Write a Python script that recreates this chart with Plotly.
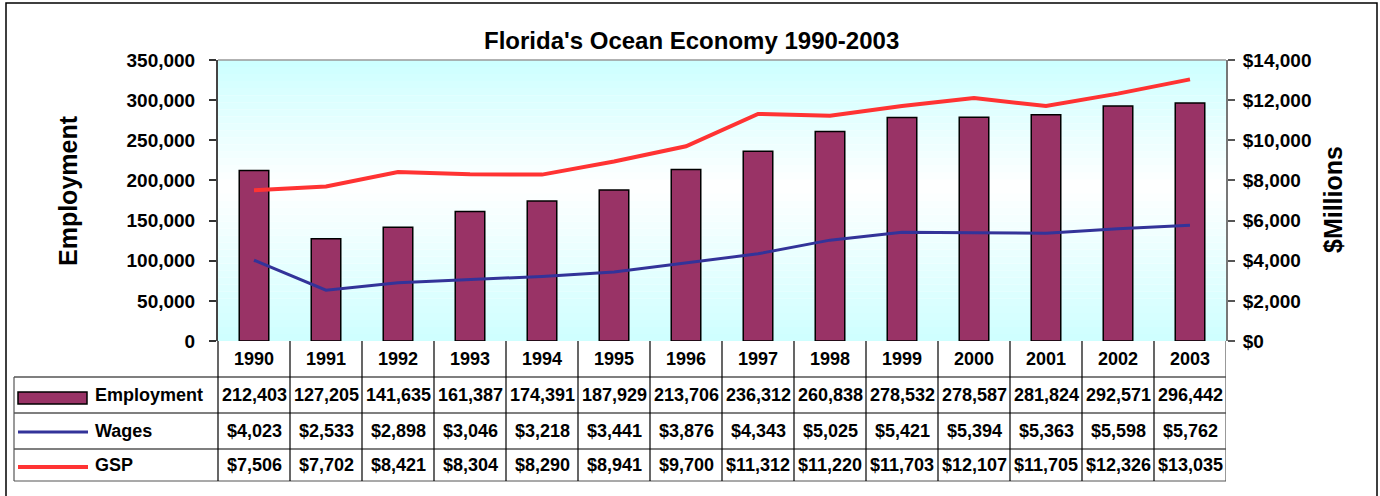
import plotly.graph_objects as go

years = [1990, 1991, 1992, 1993, 1994, 1995, 1996, 1997, 1998, 1999, 2000, 2001, 2002, 2003]
employment = [212403, 127205, 141635, 161387, 174391, 187929, 213706, 236312, 260838, 278532, 278587, 281824, 292571, 296442]
wages = [4023, 2533, 2898, 3046, 3218, 3441, 3876, 4343, 5025, 5421, 5394, 5363, 5598, 5762]
gsp = [7506, 7702, 8421, 8304, 8290, 8941, 9700, 11312, 11220, 11703, 12107, 11705, 12326, 13035]

W, H = 1380, 496
FONT = "Liberation Sans, Arial, sans-serif"
BAR_COLOR = "#993366"
WAGE_COLOR = "#333399"
GSP_COLOR = "#FF3333"

def px(x):
    return x / W

def py(y):
    return 1 - y / H

PL, PR, PT, PB = 218, 1226, 60, 341
ROWS = [341, 377, 413, 449, 481]
TL = 14

fig = go.Figure()
fig.add_trace(go.Bar(x=years, y=employment, name="Employment", width=0.41,
                     marker=dict(color=BAR_COLOR, line=dict(color="#000000", width=1.5)),
                     yaxis="y"))
fig.add_trace(go.Scatter(x=years, y=wages, name="Wages", mode="lines",
                         line=dict(color=WAGE_COLOR, width=3), yaxis="y2"))
fig.add_trace(go.Scatter(x=years, y=gsp, name="GSP", mode="lines",
                         line=dict(color=GSP_COLOR, width=4), yaxis="y2"))

shapes = []
# gradient background in plot area
N = 40
for i in range(N):
    f0 = i / N
    f1 = (i + 1) / N
    fm = (f0 + f1) / 2
    if fm >= 0.55:
        t = (fm - 0.55) / 0.45
        r = 255 - t * (255 - 204)
    else:
        t = (0.55 - fm) / 0.55
        r = 255 - t * (255 - 206)
    r = int(round(r))
    shapes.append(dict(type="rect", xref="x domain", yref="y domain", x0=0, x1=1, y0=f0, y1=f1,
                       fillcolor=f"rgb({r},255,255)", line=dict(width=0), layer="below"))
# top border of plot
shapes.append(dict(type="line", xref="paper", yref="paper", x0=px(PL), x1=px(PR), y0=py(PT), y1=py(PT),
                   line=dict(color="#999999", width=1.5)))
# outer chart border
shapes.append(dict(type="rect", xref="paper", yref="paper", x0=px(6), x1=px(1377), y0=py(3), y1=py(520),
                   line=dict(color="#000000", width=1.5), fillcolor="rgba(0,0,0,0)"))
# table horizontal lines
for i, yy in enumerate(ROWS):
    if i == 0:
        continue
    shapes.append(dict(type="line", xref="paper", yref="paper", x0=px(TL), x1=px(PR), y0=py(yy), y1=py(yy),
                       line=dict(color="#555555" if i == len(ROWS) - 1 else "#000000", width=1.2)))
# table vertical lines
shapes.append(dict(type="line", xref="paper", yref="paper", x0=px(TL), x1=px(TL), y0=py(ROWS[1]), y1=py(ROWS[-1]),
                   line=dict(color="#555555", width=1.2)))
shapes.append(dict(type="line", xref="paper", yref="paper", x0=px(PL), x1=px(PL), y0=py(ROWS[0]), y1=py(ROWS[-1]),
                   line=dict(color="#000000", width=1.2)))
for yr in years:
    shapes.append(dict(type="line", xref="x", yref="paper", x0=yr + 0.5, x1=yr + 0.5, y0=py(ROWS[0]), y1=py(ROWS[-1]),
                       line=dict(color="#555555" if yr == years[-1] else "#000000", width=1.2)))
# legend keys
shapes.append(dict(type="rect", xref="paper", yref="paper", x0=px(18), x1=px(87), y0=py(404), y1=py(392),
                   fillcolor=BAR_COLOR, line=dict(color="#000000", width=1.5)))
shapes.append(dict(type="line", xref="paper", yref="paper", x0=px(18), x1=px(88), y0=py(432), y1=py(432),
                   line=dict(color=WAGE_COLOR, width=3)))
shapes.append(dict(type="line", xref="paper", yref="paper", x0=px(18), x1=px(88), y0=py(467), y1=py(467),
                   line=dict(color=GSP_COLOR, width=4)))

ann = []
bold = dict(family=FONT, size=18, color="#000000", weight="bold")
def A(**kw):
    d = dict(showarrow=False, xanchor="center", yanchor="middle")
    d.update(kw)
    ann.append(d)

A(text="Florida's Ocean Economy 1990-2003", xref="paper", yref="paper", x=px(691), y=py(40),
  font=dict(family=FONT, size=24, color="#000000", weight="bold"))
A(text="Employment", xref="paper", yref="paper", x=px(68), y=py(191), textangle=-90,
  font=dict(family=FONT, size=25, color="#000000", weight="bold"))
A(text="$Millions", xref="paper", yref="paper", x=px(1333), y=py(200), textangle=-90,
  font=dict(family=FONT, size=25, color="#000000", weight="bold"))
row_centers = [(ROWS[i] + ROWS[i + 1]) / 2 for i in range(4)]
for i, yr in enumerate(years):
    A(text=str(yr), xref="x", yref="paper", x=yr, y=py(row_centers[0]), font=bold)
    A(text=f"{employment[i]:,}", xref="x", yref="paper", x=yr, y=py(row_centers[1]), font=bold)
    A(text=f"${wages[i]:,}", xref="x", yref="paper", x=yr, y=py(row_centers[2]), font=bold)
    A(text=f"${gsp[i]:,}", xref="x", yref="paper", x=yr, y=py(row_centers[3]), font=bold)
for name, cy in zip(["Employment", "Wages", "GSP"], row_centers[1:]):
    A(text=name, xref="paper", yref="paper", x=px(93), y=py(cy), xanchor="left", font=bold)

fig.update_layout(
    width=W, height=H,
    autosize=False,
    margin=dict(l=0, r=0, t=0, b=0, pad=0, autoexpand=False),
    paper_bgcolor="#FFFFFF",
    plot_bgcolor="rgba(0,0,0,0)",
    showlegend=False,
    xaxis=dict(domain=[px(PL), px(PR)], range=[years[0] - 0.5, years[-1] + 0.5], showticklabels=False,
               showgrid=False, zeroline=False, showline=False, ticks="", automargin=False),
    yaxis=dict(domain=[py(PB), py(PT)], range=[0, 350000], dtick=50000, tickformat=",",
               showgrid=False, zeroline=False, showline=True, linecolor="#444444", linewidth=2,
               ticks="outside", ticklen=7, tickcolor="#333333", tickwidth=1.5, ticklabelstandoff=10,
               automargin=False,
               tickfont=dict(family=FONT, size=19, color="#000000", weight="bold")),
    yaxis2=dict(overlaying="y", side="right", anchor="x", range=[0, 14000], dtick=2000, tickformat=",",
                tickprefix="$", showgrid=False, zeroline=False, showline=True, linecolor="#777777", linewidth=2,
                ticks="outside", ticklen=7, tickcolor="#555555", tickwidth=1.5, ticklabelstandoff=4,
                automargin=False,
                tickfont=dict(family=FONT, size=19, color="#000000", weight="bold")),
    shapes=shapes,
    annotations=ann,
)

fig.write_html("out.html", config={"displayModeBar": False},
               post_script="document.body.style.margin='0';document.body.style.padding='0';")
